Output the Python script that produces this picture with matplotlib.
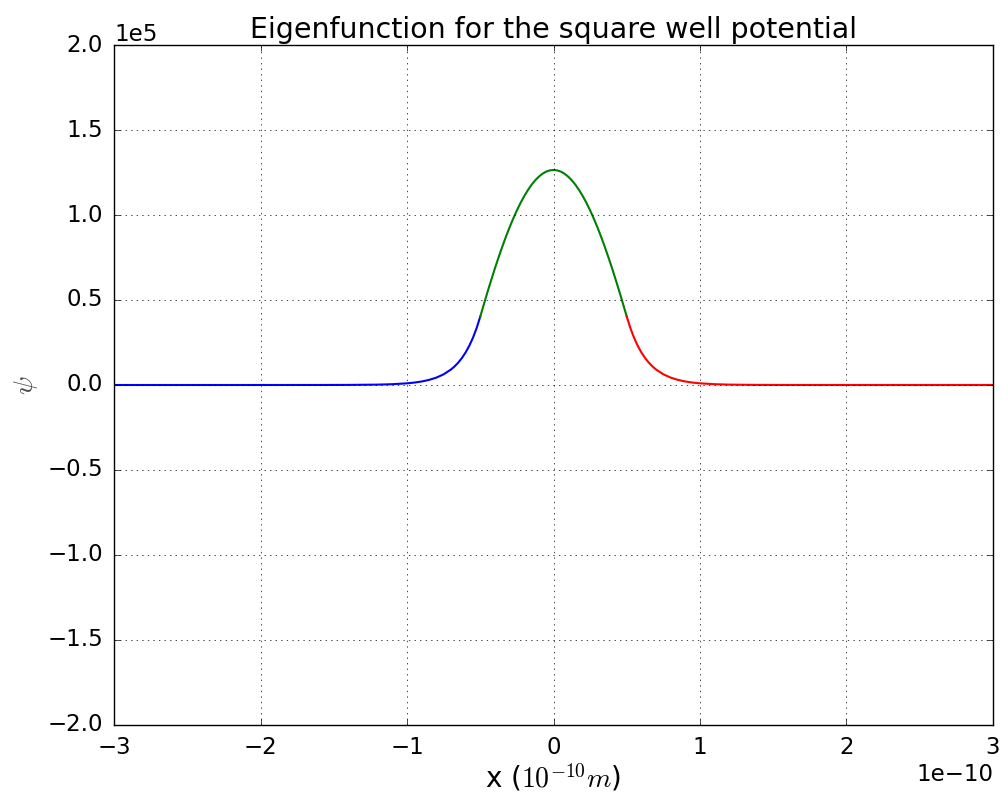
import numpy as np
import matplotlib
matplotlib.use('Agg')
import matplotlib.pyplot as plt

plt.style.use('classic')

# x in units of 1e-10 m, psi in units of 1e5
x_in = [-0.500, -0.475, -0.450, -0.425, -0.400, -0.375, -0.350, -0.325, -0.300, -0.275,
        -0.250, -0.225, -0.200, -0.175, -0.150, -0.125, -0.100, -0.075, -0.050, -0.025,
        0.000,
        0.025, 0.050, 0.075, 0.100, 0.125, 0.150, 0.175, 0.200, 0.225, 0.250,
        0.275, 0.300, 0.325, 0.350, 0.375, 0.400, 0.425, 0.450, 0.475, 0.500]
psi_in = [0.4024, 0.4759, 0.5486, 0.6178, 0.6861, 0.7507, 0.8129, 0.8717, 0.9272, 0.9790,
          1.0270, 1.0710, 1.1109, 1.1464, 1.1775, 1.2040, 1.2259, 1.2429, 1.2552, 1.2625,
          1.2650,
          1.2625, 1.2552, 1.2429, 1.2259, 1.2040, 1.1775, 1.1464, 1.1109, 1.0710, 1.0270,
          0.9790, 0.9272, 0.8717, 0.8129, 0.7507, 0.6861, 0.6178, 0.5486, 0.4759, 0.4024]

x_left = [-3.0, -2.0, -1.6, -1.4, -1.2, -1.1, -1.0, -0.95, -0.9, -0.85, -0.8, -0.75,
          -0.70, -0.675, -0.65, -0.625, -0.60, -0.575, -0.55, -0.525, -0.50]
psi_left = [0.0, 0.0, 0.0001, 0.0005, 0.0022, 0.0047, 0.0098, 0.0142, 0.0206, 0.0299, 0.0433,
            0.0628, 0.0911, 0.1096, 0.1320, 0.1590, 0.1914, 0.2305, 0.2775, 0.3342, 0.4024]

x_right = [0.50, 0.525, 0.55, 0.575, 0.60, 0.625, 0.65, 0.675, 0.70, 0.75, 0.8, 0.85,
           0.9, 0.95, 1.0, 1.1, 1.2, 1.4, 1.6, 2.0, 3.0]
psi_right = [0.4024, 0.3342, 0.2775, 0.2305, 0.1914, 0.1590, 0.1320, 0.1096, 0.0911, 0.0628,
             0.0433, 0.0299, 0.0206, 0.0142, 0.0098, 0.0047, 0.0022, 0.0005, 0.0001, 0.0, 0.0]

fig = plt.figure(figsize=(10.02, 7.98), dpi=100, facecolor='white')
ax = fig.add_axes([0.1138, 0.0915, 0.8772, 0.8521])

ax.plot(np.array(x_left) * 1e-10, np.array(psi_left) * 1e5, 'b-', lw=1.5)
ax.plot(np.array(x_in) * 1e-10, np.array(psi_in) * 1e5, 'g-', lw=1.5)
ax.plot(np.array(x_right) * 1e-10, np.array(psi_right) * 1e5, 'r-', lw=1.5)

ax.set_xlim(-3e-10, 3e-10)
ax.set_ylim(-2e5, 2e5)
ax.ticklabel_format(style='sci', scilimits=(-3, 4))
ax.grid(True)
ax.tick_params(labelsize=16.5, pad=8)
ax.xaxis.get_offset_text().set_fontsize(16.5)
ax.yaxis.get_offset_text().set_fontsize(16.5)
ax.set_title('Eigenfunction for the square well potential', fontsize=20.5)
ax.set_xlabel(r'x ($10^{-10} m$)', fontsize=20, labelpad=2)
ax.set_ylabel(r'$\psi$', fontsize=20, color='0.3')

fig.savefig('out.png', dpi=100, facecolor='white')
